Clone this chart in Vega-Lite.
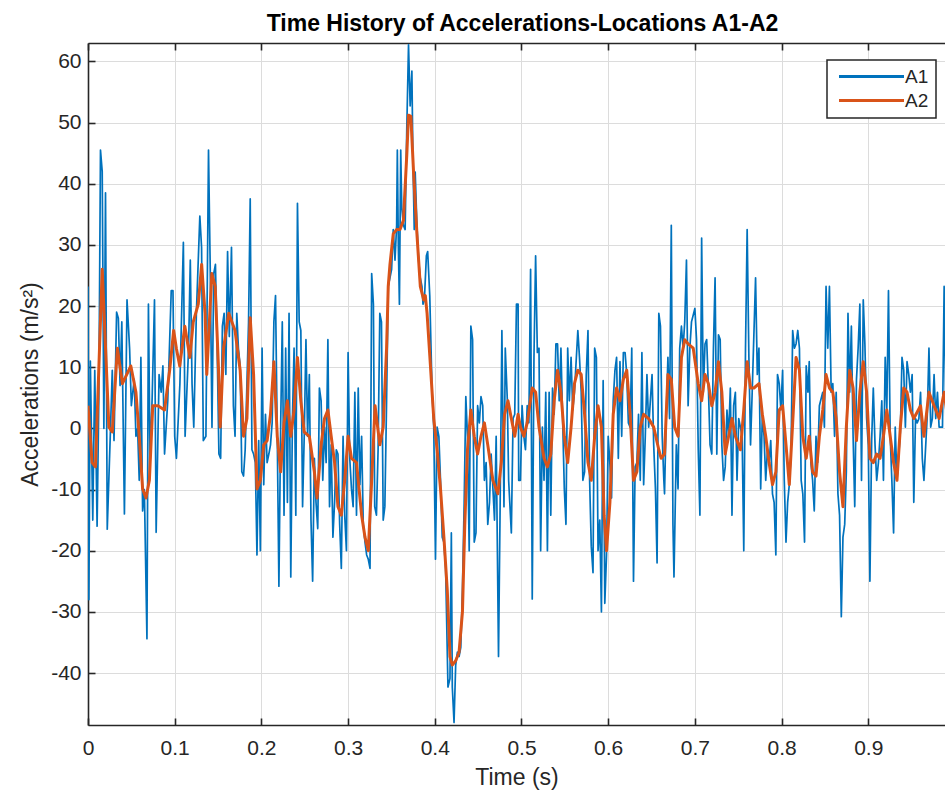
{
  "$schema": "https://vega.github.io/schema/vega-lite/v6.json",
  "width": 857,
  "height": 682,
  "autosize": "none",
  "padding": {"left": 88, "top": 43, "right": 0, "bottom": 69},
  "background": "white",
  "title": {"text": "Time History of Accelerations-Locations A1-A2", "font": "Liberation Sans", "fontSize": 23, "fontWeight": "bold", "color": "#000000", "anchor": "middle", "dx": 6, "offset": 6},
  "datasets": {
    "a1": [
      {"t":0,"v":23.2},{"t":0.001,"v":-28},{"t":0.0027,"v":11},{"t":0.0055,"v":-15},{"t":0.0078,"v":9.5},{"t":0.0105,"v":-16},{"t":0.0125,"v":5},{"t":0.0144,"v":45.5},{"t":0.0164,"v":42},{"t":0.0183,"v":0},{"t":0.0202,"v":38.5},{"t":0.0222,"v":-16.5},{"t":0.026,"v":0.2},{"t":0.028,"v":9.5},{"t":0.03,"v":-2},{"t":0.033,"v":19},{"t":0.035,"v":18},{"t":0.037,"v":7},{"t":0.039,"v":17.4},{"t":0.042,"v":-14},{"t":0.045,"v":21},{"t":0.048,"v":13},{"t":0.05,"v":3.7},{"t":0.0533,"v":8},{"t":0.0553,"v":-1.3},{"t":0.0572,"v":0},{"t":0.0591,"v":-8.5},{"t":0.061,"v":11.6},{"t":0.063,"v":-13.5},{"t":0.065,"v":-10},{"t":0.068,"v":-34.4},{"t":0.0697,"v":20.3},{"t":0.0716,"v":-5.6},{"t":0.074,"v":5},{"t":0.0767,"v":21},{"t":0.0786,"v":-17},{"t":0.082,"v":8.8},{"t":0.0844,"v":5.9},{"t":0.0864,"v":10.2},{"t":0.0883,"v":-4.2},{"t":0.092,"v":4.5},{"t":0.096,"v":22.5},{"t":0.098,"v":22.5},{"t":0.1,"v":-1.3},{"t":0.102,"v":-4.9},{"t":0.106,"v":7.3},{"t":0.11,"v":30.4},{"t":0.112,"v":-1.3},{"t":0.116,"v":13.1},{"t":0.118,"v":27.5},{"t":0.12,"v":7.3},{"t":0.122,"v":0.2},{"t":0.125,"v":18.8},{"t":0.129,"v":34.7},{"t":0.131,"v":29.6},{"t":0.133,"v":-2},{"t":0.136,"v":-1.3},{"t":0.139,"v":45.5},{"t":0.141,"v":26},{"t":0.143,"v":0.2},{"t":0.145,"v":25.3},{"t":0.147,"v":26.8},{"t":0.149,"v":13.1},{"t":0.151,"v":-4.2},{"t":0.153,"v":-4.9},{"t":0.155,"v":16.7},{"t":0.157,"v":18.8},{"t":0.159,"v":8.8},{"t":0.161,"v":28.9},{"t":0.163,"v":15},{"t":0.1655,"v":29.6},
      {"t":0.1677,"v":3.7},{"t":0.1696,"v":-1.3},{"t":0.1716,"v":18.8},{"t":0.1735,"v":13.1},{"t":0.1755,"v":10.2},{"t":0.1774,"v":-7.1},{"t":0.1794,"v":-7.8},{"t":0.1813,"v":-3.5},{"t":0.1852,"v":17.4},{"t":0.1871,"v":37.5},{"t":0.1891,"v":-3.5},{"t":0.191,"v":-4.2},{"t":0.193,"v":-5.6},{"t":0.1949,"v":-20.7},{"t":0.1969,"v":-2},{"t":0.1988,"v":-20},{"t":0.2008,"v":13.1},{"t":0.2027,"v":-9.2},{"t":0.2047,"v":2.3},{"t":0.2066,"v":-5.6},{"t":0.2086,"v":-4.2},{"t":0.2105,"v":-2.7},{"t":0.2124,"v":0.9},{"t":0.2144,"v":17.4},{"t":0.2163,"v":21.7},{"t":0.2183,"v":-1.3},{"t":0.2202,"v":-25.8},{"t":0.2222,"v":0.2},{"t":0.2241,"v":17.4},{"t":0.2261,"v":-14.2},{"t":0.228,"v":13.1},{"t":0.23,"v":-12.1},{"t":0.2319,"v":18.8},{"t":0.2339,"v":-24.3},{"t":0.2358,"v":1.6},{"t":0.2377,"v":13.1},{"t":0.2397,"v":-14.2},{"t":0.2416,"v":36.8},{"t":0.2436,"v":17.4},{"t":0.2455,"v":16},{"t":0.2475,"v":-12.8},{"t":0.2494,"v":-1.3},{"t":0.2514,"v":14.5},{"t":0.2533,"v":-1.3},{"t":0.2553,"v":8.8},{"t":0.2572,"v":-15},{"t":0.2591,"v":-25},{"t":0.2611,"v":-4.9},{"t":0.263,"v":-12.1},{"t":0.265,"v":-16.4},{"t":0.2669,"v":6.6},{"t":0.2689,"v":4.5},{"t":0.2708,"v":-8.5},{"t":0.2728,"v":0.2},{"t":0.2747,"v":-5.6},{"t":0.2767,"v":14.5},{"t":0.2786,"v":-12.8},{"t":0.2805,"v":-2.7},{"t":0.2825,"v":-17.8},{"t":0.2844,"v":-12.1},{"t":0.2864,"v":-3.5},{"t":0.2883,"v":-4.2},{"t":0.2903,"v":-15.7},{"t":0.2922,"v":-22.9},{"t":0.2942,"v":-1.3},{"t":0.2961,"v":-14.2},{"t":0.2981,"v":-20},{"t":0.3,"v":12.4},{"t":0.3019,"v":-4.9},{"t":0.3039,"v":-9.9},{"t":0.3058,"v":-12.8},{"t":0.3078,"v":5.9},{"t":0.3097,"v":-14.2},{"t":0.3117,"v":6.6},{"t":0.3136,"v":-9.2},{"t":0.3156,"v":-1.3},{"t":0.3175,"v":-15.7},{"t":0.3195,"v":-18.6},{"t":0.3214,"v":-20.7},{"t":0.3233,"v":-21.4},{"t":0.3253,"v":-22.9},{"t":0.3272,"v":25.3},{"t":0.3292,"v":20.3},
      {"t":0.3307,"v":-12.8},{"t":0.3327,"v":-14.2},{"t":0.3346,"v":-3.5},{"t":0.3366,"v":18.8},{"t":0.3385,"v":17.4},{"t":0.3405,"v":-15},{"t":0.3424,"v":-12.8},{"t":0.3444,"v":4.5},{"t":0.3463,"v":23.2},{"t":0.3483,"v":24.6},{"t":0.3502,"v":26},{"t":0.3521,"v":32.5},{"t":0.3541,"v":27.5},{"t":0.356,"v":33.2},{"t":0.3568,"v":45.5},{"t":0.358,"v":29.6},{"t":0.3592,"v":20.3},{"t":0.3607,"v":45.5},{"t":0.3619,"v":36.1},{"t":0.3638,"v":33.2},{"t":0.3658,"v":32.5},{"t":0.3677,"v":49.1},{"t":0.3697,"v":62.7},{"t":0.3716,"v":52.7},{"t":0.3736,"v":58.4},{"t":0.3747,"v":44.7},{"t":0.3763,"v":32.5},{"t":0.3774,"v":41.9},{"t":0.3794,"v":33.2},{"t":0.3813,"v":27.5},{"t":0.3833,"v":24.6},{"t":0.3852,"v":23.2},{"t":0.3864,"v":20.3},{"t":0.388,"v":21},{"t":0.3903,"v":28.2},{"t":0.3918,"v":28.9},{"t":0.3942,"v":21.7},{"t":0.3969,"v":5.9},{"t":0.3988,"v":0.2},{"t":0.4008,"v":-21.4},{"t":0.4027,"v":0.2},{"t":0.4047,"v":-1.3},{"t":0.4066,"v":-8.5},{"t":0.4086,"v":-17.8},{"t":0.4105,"v":-18.6},{"t":0.4125,"v":-22.9},{"t":0.4152,"v":-42.3},{"t":0.4175,"v":-40.9},{"t":0.4191,"v":-17.1},{"t":0.4202,"v":-42.3},{"t":0.4222,"v":-48.1},{"t":0.4241,"v":-38.7},{"t":0.4261,"v":-36.6},{"t":0.428,"v":-37.3},{"t":0.43,"v":-35.8},{"t":0.4319,"v":-26.5},{"t":0.4339,"v":-12.1},{"t":0.4358,"v":5.2},{"t":0.4377,"v":-1.3},{"t":0.4397,"v":-20},{"t":0.4416,"v":16.7},{"t":0.4436,"v":14.5},{"t":0.4455,"v":-18.6},{"t":0.4475,"v":-17.1},{"t":0.4494,"v":3.7},{"t":0.4514,"v":0.9},{"t":0.4533,"v":5.2},{"t":0.4553,"v":3.7},{"t":0.4572,"v":-8.5},{"t":0.4592,"v":-5.6},{"t":0.4611,"v":-15.7},{"t":0.4631,"v":-12.1},{"t":0.465,"v":-4.2},{"t":0.4689,"v":-15},{"t":0.4708,"v":-1.3},{"t":0.4735,"v":-37.3},{"t":0.4759,"v":-5.6},{"t":0.4774,"v":16},{"t":0.4798,"v":-12.8},{"t":0.4813,"v":13.1},{"t":0.4837,"v":4.5},{"t":0.4852,"v":-8.5},{"t":0.4883,"v":-17.1},{"t":0.4903,"v":1.6},{"t":0.4922,"v":2.3},{"t":0.4942,"v":20.3},{"t":0.4961,"v":20.3},
      {"t":0.4968,"v":-8.5},{"t":0.4988,"v":-8.5},{"t":0.5007,"v":3.7},{"t":0.5027,"v":-1.3},{"t":0.5046,"v":-3.5},{"t":0.5066,"v":3.7},{"t":0.5085,"v":0.9},{"t":0.5105,"v":26},{"t":0.5124,"v":-27.9},{"t":0.5144,"v":11.6},{"t":0.5163,"v":28.2},{"t":0.5183,"v":12.4},{"t":0.5202,"v":13.1},{"t":0.5221,"v":-20},{"t":0.5241,"v":0.2},{"t":0.526,"v":-8.5},{"t":0.528,"v":5.9},{"t":0.5299,"v":-20},{"t":0.5319,"v":5.9},{"t":0.5338,"v":-14.2},{"t":0.5358,"v":6.6},{"t":0.5377,"v":2.3},{"t":0.5397,"v":13.8},{"t":0.5416,"v":13.8},{"t":0.5435,"v":4.5},{"t":0.5455,"v":13.1},{"t":0.5494,"v":-9.9},{"t":0.5513,"v":-15.7},{"t":0.5533,"v":13.1},{"t":0.5552,"v":4.5},{"t":0.5572,"v":11.6},{"t":0.5591,"v":3},{"t":0.5611,"v":5.9},{"t":0.565,"v":16},{"t":0.5669,"v":11.6},{"t":0.5689,"v":5.9},{"t":0.5708,"v":-8.5},{"t":0.5728,"v":-7.1},{"t":0.5747,"v":8.8},{"t":0.5767,"v":16},{"t":0.5786,"v":-8.5},{"t":0.5805,"v":-19.3},{"t":0.5825,"v":-23.6},{"t":0.5844,"v":13.1},{"t":0.5864,"v":11.6},{"t":0.5883,"v":-20},{"t":0.5903,"v":-15},{"t":0.5922,"v":-30},{"t":0.5942,"v":7.8},{"t":0.5961,"v":-28.6},{"t":0.5981,"v":-20.7},{"t":0.6,"v":-1.3},{"t":0.6019,"v":-5.6},{"t":0.6039,"v":-11.4},{"t":0.6058,"v":4.5},{"t":0.6078,"v":9.5},{"t":0.6097,"v":11.6},{"t":0.6117,"v":-4.9},{"t":0.6136,"v":10.9},{"t":0.6156,"v":-1.3},{"t":0.6175,"v":12.4},{"t":0.6195,"v":12.4},{"t":0.6214,"v":8.8},{"t":0.6233,"v":0.9},{"t":0.6253,"v":0.2},{"t":0.6272,"v":13.1},{"t":0.6292,"v":-25},{"t":0.6311,"v":-6.3},{"t":0.6331,"v":-5.6},{"t":0.635,"v":2.3},{"t":0.637,"v":-8.5},{"t":0.6389,"v":12.4},{"t":0.6409,"v":-9.2},{"t":0.6428,"v":-1.3},{"t":0.6447,"v":8.8},{"t":0.6467,"v":0.2},{"t":0.6506,"v":8.8},{"t":0.6525,"v":-2.7},{"t":0.6545,"v":-9.9},{"t":0.6564,"v":-22},{"t":0.6584,"v":18.8},{"t":0.6603,"v":16.7},{"t":0.6623,"v":-1.3},
      {"t":0.6642,"v":-8.5},{"t":0.665,"v":-10.7},{"t":0.6669,"v":1.6},{"t":0.6689,"v":11.6},{"t":0.6708,"v":1.6},{"t":0.6728,"v":33.2},{"t":0.6747,"v":-15.7},{"t":0.6759,"v":-24.3},{"t":0.6786,"v":-2.7},{"t":0.6806,"v":-9.9},{"t":0.6825,"v":13.1},{"t":0.6845,"v":16.7},{"t":0.6864,"v":13.1},{"t":0.6883,"v":17.4},{"t":0.6903,"v":27.5},{"t":0.6922,"v":3.7},{"t":0.6942,"v":13.1},{"t":0.6961,"v":17.4},{"t":0.7,"v":19.6},{"t":0.7019,"v":14.5},{"t":0.7039,"v":-3.5},{"t":0.7058,"v":-14.2},{"t":0.7078,"v":31.1},{"t":0.7097,"v":5.9},{"t":0.7117,"v":13.8},{"t":0.7136,"v":14.5},{"t":0.7156,"v":6.6},{"t":0.7175,"v":-2.7},{"t":0.7195,"v":-4.2},{"t":0.7214,"v":13.1},{"t":0.7233,"v":24.6},{"t":0.7253,"v":-4.2},{"t":0.7272,"v":15.3},{"t":0.7292,"v":14.5},{"t":0.7311,"v":-2.7},{"t":0.7331,"v":-8.5},{"t":0.735,"v":-6.3},{"t":0.737,"v":3},{"t":0.7389,"v":-1.3},{"t":0.7409,"v":6.6},{"t":0.7428,"v":-14.2},{"t":0.7447,"v":3.7},{"t":0.7467,"v":5.9},{"t":0.7486,"v":-8.5},{"t":0.7506,"v":1.6},{"t":0.7545,"v":-1.3},{"t":0.7564,"v":-20},{"t":0.7584,"v":13.1},{"t":0.7603,"v":32.5},{"t":0.7623,"v":11.6},{"t":0.7642,"v":-2.7},{"t":0.7661,"v":5.9},{"t":0.77,"v":24.6},{"t":0.772,"v":8.8},{"t":0.7739,"v":13.1},{"t":0.7759,"v":-9.9},{"t":0.7778,"v":2.3},{"t":0.7798,"v":-1.3},{"t":0.7817,"v":-8.5},{"t":0.7837,"v":-3.5},{"t":0.7856,"v":-5.6},{"t":0.7875,"v":-2},{"t":0.7895,"v":-10.7},{"t":0.7914,"v":-12.1},{"t":0.7934,"v":-20.7},{"t":0.7953,"v":8.8},{"t":0.7973,"v":7.3},{"t":0.7992,"v":3},{"t":0.8012,"v":9.5},{"t":0.8031,"v":-8.5},{"t":0.8051,"v":-18.6},{"t":0.807,"v":-12.1},{"t":0.8089,"v":-9.2},{"t":0.8109,"v":-4.2},{"t":0.8128,"v":16},{"t":0.8148,"v":13.1},{"t":0.8167,"v":13.8},{"t":0.8187,"v":16},{"t":0.8206,"v":13.1},{"t":0.8226,"v":-8.5},{"t":0.8245,"v":-10.7},{"t":0.8265,"v":-18.6},{"t":0.8284,"v":10.2},{"t":0.8304,"v":5.9},
      {"t":0.8319,"v":10.9},{"t":0.8338,"v":-5.6},{"t":0.8358,"v":-8.5},{"t":0.8377,"v":-13.5},{"t":0.8397,"v":-1.3},{"t":0.8416,"v":-5.6},{"t":0.8436,"v":3.7},{"t":0.8475,"v":5.9},{"t":0.8494,"v":0.2},{"t":0.8513,"v":23.2},{"t":0.8533,"v":13.1},{"t":0.8552,"v":23.2},{"t":0.8572,"v":5.9},{"t":0.8591,"v":7.3},{"t":0.8611,"v":-1.3},{"t":0.863,"v":5.9},{"t":0.865,"v":-10.7},{"t":0.8669,"v":-14.2},{"t":0.8689,"v":-30.8},{"t":0.8708,"v":-17.8},{"t":0.8728,"v":-15.7},{"t":0.8747,"v":-7.1},{"t":0.8766,"v":18.8},{"t":0.8786,"v":5.9},{"t":0.8805,"v":16.7},{"t":0.8825,"v":-1.3},{"t":0.8844,"v":-12.8},{"t":0.8864,"v":8},{"t":0.8883,"v":13.1},{"t":0.8903,"v":20.3},{"t":0.8922,"v":-8.5},{"t":0.8942,"v":21},{"t":0.8961,"v":13.8},{"t":0.8981,"v":1.6},{"t":0.9,"v":-2.7},{"t":0.9019,"v":-25},{"t":0.9039,"v":-2},{"t":0.9058,"v":6.6},{"t":0.9078,"v":-2.7},{"t":0.9097,"v":-8.5},{"t":0.9117,"v":-5.6},{"t":0.9136,"v":-1.3},{"t":0.9156,"v":4.5},{"t":0.9175,"v":-8.5},{"t":0.9195,"v":11.6},{"t":0.9214,"v":3},{"t":0.9233,"v":22.5},{"t":0.9253,"v":-1.3},{"t":0.9272,"v":-8.5},{"t":0.9292,"v":-17.1},{"t":0.9311,"v":0.2},{"t":0.9331,"v":-8.5},{"t":0.937,"v":-0.6},{"t":0.9389,"v":11.6},{"t":0.9409,"v":9.5},{"t":0.9428,"v":0.2},{"t":0.9447,"v":10.9},{"t":0.9467,"v":8.8},{"t":0.9486,"v":5.9},{"t":0.9506,"v":8.8},{"t":0.9525,"v":-12.1},{"t":0.9545,"v":1.6},{"t":0.9564,"v":0.9},{"t":0.9584,"v":1.6},{"t":0.9603,"v":5.9},{"t":0.9623,"v":-4.9},{"t":0.9642,"v":-8.5},{"t":0.9681,"v":2.3},{"t":0.97,"v":13.1},{"t":0.972,"v":0.2},{"t":0.9739,"v":1.6},{"t":0.9759,"v":8.8},{"t":0.9778,"v":1.6},{"t":0.9798,"v":5.9},{"t":0.9817,"v":0.2},{"t":0.9856,"v":0.2},{"t":0.9875,"v":23.2},{"t":0.9895,"v":1.6}
    ],
    "a2": [
      {"t":0,"v":3.7},{"t":0.0047,"v":-5.6},{"t":0.0086,"v":-6.3},{"t":0.0164,"v":26},{"t":0.0241,"v":0.2},{"t":0.028,"v":-0.6},{"t":0.0339,"v":13.1},{"t":0.0397,"v":7.3},{"t":0.0494,"v":10.2},{"t":0.0553,"v":5.9},{"t":0.0591,"v":-1.3},{"t":0.063,"v":-9.9},{"t":0.0669,"v":-11.4},{"t":0.0708,"v":-8.5},{"t":0.0747,"v":3.7},{"t":0.0806,"v":3.7},{"t":0.0883,"v":3},{"t":0.0942,"v":9.5},{"t":0.0988,"v":16},{"t":0.1019,"v":13.1},{"t":0.1058,"v":10.2},{"t":0.1117,"v":16.7},{"t":0.1175,"v":11.6},{"t":0.1214,"v":17.4},{"t":0.1272,"v":20.3},{"t":0.1311,"v":26.8},{"t":0.135,"v":18.8},{"t":0.137,"v":8.8},{"t":0.1428,"v":25.3},{"t":0.1467,"v":23.2},{"t":0.1506,"v":9.5},{"t":0.1525,"v":0.2},{"t":0.1564,"v":13.1},{"t":0.1623,"v":18.8},
      {"t":0.1696,"v":16},{"t":0.1755,"v":9.5},{"t":0.1794,"v":-1.3},{"t":0.1833,"v":1.6},{"t":0.1871,"v":18.1},{"t":0.191,"v":8.8},{"t":0.1949,"v":-9.9},{"t":0.1988,"v":-8.5},{"t":0.2027,"v":-2.7},{"t":0.2066,"v":-2},{"t":0.2105,"v":2.3},{"t":0.2144,"v":10.9},{"t":0.2183,"v":-1.3},{"t":0.2222,"v":-7.1},{"t":0.2261,"v":0.9},{"t":0.23,"v":4.5},{"t":0.2339,"v":-1.3},{"t":0.2377,"v":3},{"t":0.2416,"v":11.6},{"t":0.2455,"v":4.5},{"t":0.2494,"v":-0.6},{"t":0.2553,"v":-1.3},{"t":0.2611,"v":-7.1},{"t":0.2642,"v":-11.4},{"t":0.2689,"v":-2.7},{"t":0.2728,"v":1.6},{"t":0.2767,"v":3},{"t":0.2805,"v":-1.3},{"t":0.2844,"v":-5.6},{"t":0.2883,"v":-12.8},{"t":0.2922,"v":-14.2},{"t":0.2961,"v":-8.5},{"t":0.3,"v":-1.3},{"t":0.3039,"v":-4.9},{"t":0.3097,"v":-5.6},{"t":0.3156,"v":-14.2},{"t":0.3195,"v":-17.8},{"t":0.3233,"v":-20},{"t":0.3272,"v":-8.5},{"t":0.3311,"v":3.7},
      {"t":0.3366,"v":-2.7},{"t":0.3405,"v":0.2},{"t":0.3444,"v":13.1},{"t":0.3463,"v":23.2},{"t":0.3483,"v":26.8},{"t":0.3521,"v":31.8},{"t":0.356,"v":32.5},{"t":0.3599,"v":32.5},{"t":0.3638,"v":34},{"t":0.3677,"v":44.7},{"t":0.3697,"v":51.2},{"t":0.3724,"v":51},{"t":0.3755,"v":41.9},{"t":0.3794,"v":31.8},{"t":0.3833,"v":23.2},{"t":0.3872,"v":21},{"t":0.3891,"v":21.7},{"t":0.3911,"v":18.8},{"t":0.395,"v":10.2},{"t":0.3988,"v":1.6},{"t":0.4027,"v":-3.5},{"t":0.4066,"v":-9.9},{"t":0.4105,"v":-17.8},{"t":0.4144,"v":-26.5},{"t":0.4175,"v":-37.3},{"t":0.4202,"v":-38.7},{"t":0.4241,"v":-38},{"t":0.428,"v":-36.6},{"t":0.4319,"v":-30},{"t":0.4346,"v":-15.7},{"t":0.4377,"v":-3.5},{"t":0.4416,"v":3},{"t":0.4455,"v":-1.3},{"t":0.4494,"v":-4.2},{"t":0.4533,"v":-1.3},{"t":0.4572,"v":0.9},{"t":0.4611,"v":-2.7},{"t":0.467,"v":-8.5},{"t":0.4728,"v":-10.7},{"t":0.4767,"v":-5.6},{"t":0.4805,"v":2.3},{"t":0.4844,"v":4.5},{"t":0.4883,"v":1.6},{"t":0.4922,"v":-1.3},{"t":0.4961,"v":2.3},
      {"t":0.4988,"v":0.2},{"t":0.5027,"v":-1.3},{"t":0.5066,"v":0.9},{"t":0.5124,"v":6.6},{"t":0.5163,"v":5.9},{"t":0.5202,"v":0.2},{"t":0.526,"v":-4.9},{"t":0.5299,"v":-6.3},{"t":0.5338,"v":-4.2},{"t":0.5377,"v":4.5},{"t":0.5416,"v":9.5},{"t":0.5455,"v":5.9},{"t":0.5494,"v":-1.3},{"t":0.5533,"v":-5.6},{"t":0.5572,"v":0.2},{"t":0.5611,"v":7.3},{"t":0.565,"v":9.5},{"t":0.5689,"v":8.8},{"t":0.5728,"v":2.3},{"t":0.5767,"v":-5.6},{"t":0.5805,"v":-8.5},{"t":0.5844,"v":-1.3},{"t":0.5883,"v":3.7},{"t":0.5922,"v":0.2},{"t":0.5953,"v":-14.2},{"t":0.5981,"v":-20},{"t":0.602,"v":-12.1},{"t":0.6058,"v":2.3},{"t":0.6097,"v":6.6},{"t":0.6136,"v":4.5},{"t":0.6175,"v":8},{"t":0.6214,"v":9.5},{"t":0.6253,"v":2.3},{"t":0.6292,"v":-8.5},{"t":0.6331,"v":-7.1},{"t":0.637,"v":0.2},{"t":0.6409,"v":2.3},{"t":0.6467,"v":1.6},{"t":0.6525,"v":0.2},{"t":0.6584,"v":-3.5},{"t":0.6611,"v":-4.9},
      {"t":0.665,"v":-4.2},{"t":0.6689,"v":8.8},{"t":0.6728,"v":8},{"t":0.6767,"v":0.2},{"t":0.6806,"v":-1.3},{"t":0.6845,"v":11.6},{"t":0.6883,"v":14.5},{"t":0.6922,"v":13.8},{"t":0.6981,"v":13.1},{"t":0.7039,"v":7.3},{"t":0.7078,"v":4.5},{"t":0.7117,"v":8.8},{"t":0.7156,"v":7.3},{"t":0.7195,"v":3.7},{"t":0.7233,"v":5.9},{"t":0.7272,"v":10.9},{"t":0.7311,"v":5.9},{"t":0.735,"v":-4.2},{"t":0.7389,"v":-1.3},{"t":0.7428,"v":1.6},{"t":0.7467,"v":-1.3},{"t":0.7525,"v":-3.5},{"t":0.7564,"v":3},{"t":0.7603,"v":10.9},{"t":0.7642,"v":6.6},{"t":0.7681,"v":6.6},{"t":0.774,"v":7.3},{"t":0.7778,"v":2.3},{"t":0.7817,"v":-1.3},{"t":0.7856,"v":-5.6},{"t":0.7895,"v":-9.2},{"t":0.7934,"v":-7.1},{"t":0.7973,"v":3},{"t":0.8012,"v":3.7},{"t":0.8051,"v":-2.7},{"t":0.8089,"v":-9.2},{"t":0.8128,"v":0.9},{"t":0.8167,"v":11.6},{"t":0.8206,"v":9.5},{"t":0.8245,"v":-1.3},{"t":0.8284,"v":-4.9},
      {"t":0.8319,"v":-1.3},{"t":0.8358,"v":-7.1},{"t":0.8397,"v":-7.8},{"t":0.8436,"v":-1.3},{"t":0.8475,"v":3},{"t":0.8513,"v":8.8},{"t":0.8552,"v":6.6},{"t":0.8591,"v":5.9},{"t":0.863,"v":1.6},{"t":0.8669,"v":-7.1},{"t":0.8708,"v":-12.8},{"t":0.8747,"v":0.2},{"t":0.8786,"v":9.5},{"t":0.8825,"v":6.6},{"t":0.8864,"v":-2},{"t":0.8903,"v":5.9},{"t":0.8942,"v":10.9},{"t":0.8981,"v":5.9},{"t":0.9019,"v":-4.9},{"t":0.9058,"v":-5.6},{"t":0.9097,"v":-4.2},{"t":0.9136,"v":-4.9},{"t":0.9175,"v":-1.3},{"t":0.9214,"v":3},{"t":0.9253,"v":-1.3},{"t":0.9292,"v":-5.6},{"t":0.9331,"v":-8.5},{"t":0.937,"v":0.2},{"t":0.9409,"v":6.6},{"t":0.9447,"v":5.9},{"t":0.9486,"v":3},{"t":0.9525,"v":1.6},{"t":0.9603,"v":3.7},{"t":0.9642,"v":-1.3},{"t":0.97,"v":5.9},{"t":0.9759,"v":3.7},{"t":0.9817,"v":1.6},{"t":0.9875,"v":5.9},{"t":0.9903,"v":3}
    ]
  },
  "layer": [
    {
      "data": {"name": "a1"},
      "mark": {"type": "line", "strokeWidth": 1.7, "clip": true, "strokeJoin": "round"},
      "encoding": {
        "x": {"field": "t", "type": "quantitative",
              "scale": {"domain": [0, 0.9885], "nice": false, "zero": false},
              "axis": {"orient": "bottom", "values": [0,0.1,0.2,0.3,0.4,0.5,0.6,0.7,0.8,0.9], "labelExpr": "toString(datum.value)", "title": "Time (s)", "grid": true, "labelPadding": 19, "titlePadding": 8, "labelFlush": false, "labelOverlap": false}},
        "y": {"field": "v", "type": "quantitative",
              "scale": {"domain": [-48.5, 63], "nice": false, "zero": false},
              "axis": {"values": [-40,-30,-20,-10,0,10,20,30,40,50,60], "labelExpr": "toString(datum.value)", "title": "Accelerations  (m/s²)", "grid": true, "labelPadding": 14, "titlePadding": 8, "labelOverlap": false}},
        "color": {"datum": "A1", "type": "nominal",
                  "scale": {"domain": ["A1", "A2"], "range": ["#0072BD", "#D95319"]},
                  "legend": {"orient": "none", "legendX": 739, "legendY": 17, "title": null,
                             "symbolType": "M-6.5,0H6.5", "symbolSize": 100, "symbolStrokeWidth": 3,
                             "symbolOffset": 28, "labelOffset": 24,
                             "labelFont": "Liberation Sans", "labelFontSize": 19, "labelColor": "#262626",
                             "strokeColor": "#262626", "fillColor": "white", "padding": 7, "rowPadding": 4}}
      }
    },
    {
      "data": {"name": "a2"},
      "mark": {"type": "line", "strokeWidth": 3, "clip": true, "strokeJoin": "round"},
      "encoding": {
        "x": {"field": "t", "type": "quantitative",
              "axis": {"orient": "top", "values": [0,0.1,0.2,0.3,0.4,0.5,0.6,0.7,0.8,0.9], "labels": false, "title": null, "grid": false}},
        "y": {"field": "v", "type": "quantitative"},
        "color": {"datum": "A2", "type": "nominal"}
      }
    }
  ],
  "resolve": {"axis": {"x": "independent"}},
  "config": {
    "view": {"stroke": null},
    "legend": {"strokeWidth": 1.5},
    "axis": {"domainColor": "#262626", "domainWidth": 1.6, "tickColor": "#262626", "tickWidth": 1.6, "tickSize": -7,
             "labelColor": "#262626", "labelFont": "Liberation Sans", "labelFontSize": 21,
             "titleFont": "Liberation Sans", "titleFontSize": 23, "titleFontWeight": "normal", "titleColor": "#262626",
             "gridColor": "#dcdcdc", "gridWidth": 1}
  }
}
